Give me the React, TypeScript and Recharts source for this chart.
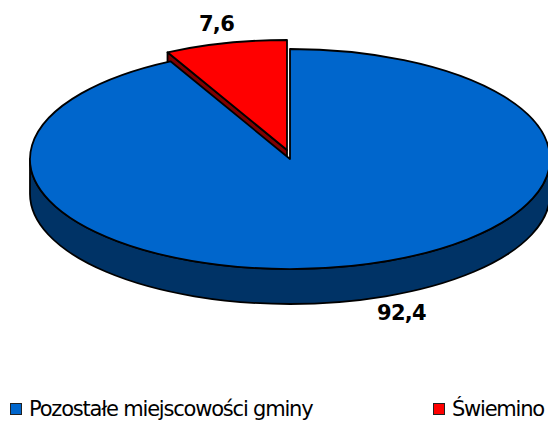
import React from "react";
import { PieChart, Pie, Legend } from "recharts";

const NAMES = ["Świemino", "Pozostałe miejscowości gminy"];
const VALUES = [7.6, 92.4];
const TOPS = ["#FF0000", "#0066CC"];
const WALLS = ["#800000", "#003366"];

// rysowane czerwony -> niebieski, niebieski przykrywa bok czerwonego
const data = NAMES.map((name, i) => ({ name, value: VALUES[i], fill: TOPS[i], wall: WALLS[i] }));

const W = 548;
const H = 421;
const CX = 290;
const CY = 159;
const RY = 110;
const RX = 260;
const DEPTH = 35;
const EXPLODE_X = -3;
const EXPLODE_Y = -9;
const LABEL_OFFSET = [{ x: -12, y: -21 }, { x: 50, y: 54 }];

const K = RX / RY;
const rad = (a: number) => (a * Math.PI) / 180;
const px = (cx: number, r: number, a: number) => cx + r * K * Math.cos(rad(a));
const py = (cy: number, r: number, a: number) => cy - r * Math.sin(rad(a));

function PieSlice(props: any) {
  const { cx, cy, outerRadius: r, startAngle, endAngle, fill, name } = props;
  const idx = NAMES.indexOf(name);
  const ox = idx === 0 ? cx + EXPLODE_X : cx;
  const oy = idx === 0 ? cy + EXPLODE_Y : cy;
  const large = Math.abs(startAngle - endAngle) > 180 ? 1 : 0;
  const x0 = px(ox, r, startAngle);
  const y0 = py(oy, r, startAngle);
  const x1 = px(ox, r, endAngle);
  const y1 = py(oy, r, endAngle);
  const top = `M${ox},${oy} L${x0},${y0} A${r * K},${r} 0 ${large} 1 ${x1},${y1} Z`;
  // bok: czerwony wzdluz ciecia, niebieski przednia polowa elipsy
  const wall =
    idx === 0
      ? `M${x0},${y0} L${ox},${oy} L${ox},${oy + DEPTH} L${x0},${y0 + DEPTH} Z`
      : `M${ox - r * K},${oy} A${r * K},${r} 0 0 0 ${ox + r * K},${oy} L${ox + r * K},${oy + DEPTH} A${r * K},${r} 0 0 1 ${ox - r * K},${oy + DEPTH} Z`;
  return (
    <g>
      <path d={wall} fill={WALLS[idx]} stroke="#000" strokeWidth={1.8} strokeLinejoin="round" />
      <path d={top} fill={fill} stroke="#000" strokeWidth={1.8} strokeLinejoin="round" />
    </g>
  );
}

function SliceLabel(props: any) {
  const { cx, cy, outerRadius: r, midAngle, name, value } = props;
  const idx = NAMES.indexOf(name);
  const off = LABEL_OFFSET[idx];
  return (
    <text
      x={px(cx, r, midAngle) + off.x}
      y={py(cy, r, midAngle) + off.y}
      textAnchor="middle"
      fontFamily="DejaVu Sans"
      fontWeight={700}
      fontSize={21}
      letterSpacing={-0.7}
      fill="#000"
    >
      {String(value).replace(".", ",")}
    </text>
  );
}

function ChartLegend({ payload }: any) {
  const items = payload || [];
  return (
    <div style={{ display: "flex", justifyContent: "space-between", padding: "0 4px 0 10px" }}>
      {items.map((e: any) => (
        <div key={e.value} style={{ display: "flex", alignItems: "center", fontFamily: "DejaVu Sans", fontSize: 21, letterSpacing: -1.2, color: "#000" }}>
          <span style={{ width: 10, height: 10, background: e.color, border: "1.5px solid #222", marginRight: 7 }} />
          {e.value}
        </div>
      ))}
    </div>
  );
}

export default function App() {
  return (
    <div style={{ position: "absolute", left: 0, top: 0, width: W, height: H, background: "#fff" }}>
      <PieChart width={W} height={H} margin={{ top: 0, right: 0, bottom: 0, left: 0 }}>
        <Pie
          data={data}
          dataKey="value"
          nameKey="name"
          cx={CX}
          cy={CY}
          outerRadius={RY}
          startAngle={117.36}
          endAngle={-242.64}
          paddingAngle={0}
          shape={PieSlice}
          label={SliceLabel}
          labelLine={false}
          isAnimationActive={false}
        />
        <Legend content={ChartLegend} wrapperStyle={{ left: 0, top: 397, width: W, height: 26 }} />
      </PieChart>
    </div>
  );
}
